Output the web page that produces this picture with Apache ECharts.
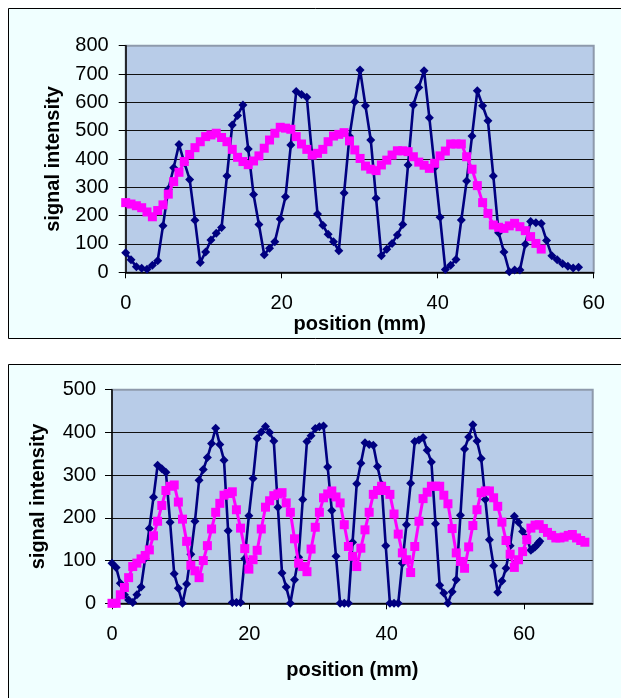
<!DOCTYPE html>
<html>
<head>
<meta charset="utf-8">
<script src="https://cdn.jsdelivr.net/npm/echarts@6/dist/echarts.min.js"></script>
<style>
html,body{margin:0;padding:0;background:#fff;}
#chart{width:621px;height:698px;}
</style>
</head>
<body>
<div id="chart"></div>
<script>
// ---------- data ----------
const xTicks = [0, 20, 40, 60];

// top chart: sample positions (mm)
const topPos = [0, 0.68, 1.37, 2.05, 2.73, 3.42, 4.10, 4.78, 5.46, 6.15,
  6.83, 7.51, 8.20, 8.88, 9.56, 10.25, 10.93, 11.61, 12.29, 12.98,
  13.66, 14.34, 15.03, 15.71, 16.39, 17.08, 17.76, 18.44, 19.12, 19.81,
  20.49, 21.17, 21.86, 22.54, 23.22, 23.91, 24.59, 25.27, 25.95, 26.64,
  27.32, 28.00, 28.69, 29.37, 30.05, 30.74, 31.42, 32.10, 32.78, 33.47,
  34.15, 34.83, 35.52, 36.20, 36.88, 37.57, 38.25, 38.93, 39.61, 40.30,
  40.98, 41.66, 42.35, 43.03, 43.71, 44.40, 45.08, 45.76, 46.44, 47.13,
  47.81, 48.49, 49.18, 49.86, 50.54, 51.23, 51.91, 52.59, 53.27, 53.96,
  54.64, 55.32, 56.01, 56.69, 57.37, 58.06];

const topNavy = [69, 44, 20, 14, 11, 25, 41, 164, 293, 369,
  451, 388, 328, 184, 35, 72, 114, 138, 158, 340,
  520, 554, 591, 435, 275, 169, 62, 85, 108, 188,
  267, 449, 638, 628, 618, 410, 206, 166, 134, 108,
  76, 280, 480, 602, 714, 588, 467, 261, 58, 81,
  102, 132, 169, 379, 591, 652, 712, 546, 370, 194,
  10, 25, 45, 185, 322, 481, 641, 588, 535, 340,
  140, 72, 2, 8, 8, 99, 179, 175, 172, 112,
  58, 44, 30, 21, 15, 18];

const topMagenta = [246, 241, 235, 228, 213, 196, 218, 238, 276, 320,
  353, 391, 416, 440, 461, 479, 485, 491, 476, 461,
  434, 406, 391, 380, 393, 411, 438, 467, 491, 512,
  509, 505, 479, 453, 434, 414, 420, 434, 461, 481,
  487, 493, 464, 432, 402, 375, 364, 359, 379, 396,
  414, 429, 429, 426, 408, 389, 378, 367, 385, 411,
  428, 453, 453, 453, 408, 364, 306, 246, 208, 167,
  159, 155, 164, 173, 161, 147, 126, 102, 82];

// bottom chart: sample positions (mm)
const botPos = [0, 0.60, 1.21, 1.81, 2.42, 3.02, 3.62, 4.23, 4.83, 5.44,
  6.04, 6.64, 7.25, 7.85, 8.46, 9.06, 9.66, 10.27, 10.87, 11.48,
  12.08, 12.68, 13.29, 13.89, 14.50, 15.10, 15.70, 16.31, 16.91, 17.52,
  18.12, 18.72, 19.33, 19.93, 20.54, 21.14, 21.74, 22.35, 22.95, 23.56,
  24.16, 24.76, 25.37, 25.97, 26.58, 27.18, 27.78, 28.39, 28.99, 29.60,
  30.20, 30.80, 31.41, 32.01, 32.62, 33.22, 33.82, 34.43, 35.03, 35.64,
  36.24, 36.84, 37.45, 38.05, 38.66, 39.26, 39.86, 40.47, 41.07, 41.68,
  42.28, 42.88, 43.49, 44.09, 44.70, 45.30, 45.90, 46.51, 47.11, 47.72,
  48.32, 48.92, 49.53, 50.13, 50.74, 51.34, 51.94, 52.55, 53.15, 53.76,
  54.36, 54.96, 55.57, 56.17, 56.78, 57.38, 57.98, 58.59, 59.19, 59.80,
  60.40, 61.00, 61.61, 62.21, 62.82, 63.42, 64.02, 64.63, 65.23, 65.84,
  66.44, 67.04, 67.65, 68.25, 68.86];

const botNavy = [94, 84, 47, 20, 8, 2, 20, 38, 105, 175,
  248, 323, 315, 307, 190, 69, 35, 0, 45, 115,
  192, 288, 313, 341, 374, 410, 372, 335, 170, 2,
  2, 2, 104, 205, 292, 386, 401, 414, 400, 380,
  225, 71, 38, 0, 55, 108, 243, 379, 392, 409,
  413, 415, 319, 217, 110, 0, 0, 0, 143, 280,
  328, 376, 372, 370, 320, 278, 135, 0, 0, 0,
  94, 184, 281, 379, 382, 388, 358, 331, 186, 42,
  24, 0, 27, 55, 206, 361, 389, 418, 380, 339,
  243, 149, 88, 26, 52, 82, 135, 204, 190, 168,
  153];
// short dense tail at the end of the navy trace
const botNavyTailPos = [61.0, 61.3, 61.6, 61.9, 62.1, 62.3];
const botNavyTail = [124, 128, 132, 137, 141, 145];

const botMagenta = [0, 0, 20, 37, 60, 86, 94, 104, 112, 125,
  158, 192, 229, 264, 274, 277, 237, 197, 145, 89,
  76, 60, 100, 135, 174, 213, 234, 253, 257, 261,
  219, 176, 128, 80, 102, 124, 174, 225, 240, 252,
  256, 259, 235, 213, 151, 94, 86, 74, 127, 178,
  213, 247, 256, 263, 249, 235, 184, 133, 110, 86,
  129, 172, 213, 255, 264, 274, 264, 255, 209, 162,
  118, 102, 72, 133, 192, 245, 260, 274, 274, 274,
  253, 233, 175, 118, 98, 82, 132, 182, 219, 259,
  263, 263, 247, 227, 190, 147, 115, 84, 102, 121,
  149, 176, 183, 184, 175, 166, 159, 153, 153, 155,
  159, 161, 153, 147, 143];

// ---------- build ----------
const pair = (xs, ys) => ys.map((v, i) => [xs[i], v]);
const topNavyData = pair(topPos, topNavy);
const topMagData = pair(topPos, topMagenta);
const botNavyData = pair(botPos, botNavy).concat(pair(botNavyTailPos, botNavyTail));
const botMagData = pair(botPos, botMagenta);

const FONT = '"Liberation Sans", Arial, sans-serif';
const NAVY = '#000080';
const MAG = '#FF00FF';

function xAxisCfg(gridIndex, max, nameGap) {
  return {
    type: 'value', gridIndex, min: 0, max, interval: 20,
    name: 'position (mm)', nameLocation: 'middle', nameGap,
    nameTextStyle: { fontFamily: FONT, fontSize: 20, fontWeight: 'bold', color: '#000' },
    axisLine: { show: true, onZero: false, lineStyle: { color: '#000', width: 1.5 } },
    axisTick: { show: true, length: 6, customValues: xTicks, lineStyle: { color: '#000', width: 1 } },
    axisLabel: { margin: 21, fontFamily: FONT, fontSize: 20, color: '#000', customValues: xTicks,
      formatter: v => (xTicks.indexOf(v) >= 0 ? String(v) : '') },
    splitLine: { show: false }
  };
}
function yAxisCfg(gridIndex, max, nameGap, margin) {
  return {
    type: 'value', gridIndex, min: 0, max, interval: 100,
    name: 'signal intensity', nameLocation: 'middle', nameGap,
    nameTextStyle: { fontFamily: FONT, fontSize: 20, fontWeight: 'bold', color: '#000' },
    axisLine: { show: true, lineStyle: { color: '#000', width: 1.5 } },
    axisTick: { show: true, length: 7, lineStyle: { color: '#000', width: 1 } },
    axisLabel: { margin, fontFamily: FONT, fontSize: 20, color: '#000' },
    splitLine: { show: true, showMaxLine: false, lineStyle: { color: '#111', width: 1 } }
  };
}
function navySeries(xi, data) {
  return { type: 'line', xAxisIndex: xi, yAxisIndex: xi, data,
    symbol: 'diamond', symbolSize: 9, showAllSymbol: true,
    lineStyle: { color: NAVY, width: 2.6 }, itemStyle: { color: NAVY }, z: 3 };
}
function magSeries(xi, data) {
  return { type: 'line', xAxisIndex: xi, yAxisIndex: xi, data,
    symbol: 'rect', symbolSize: 9, showAllSymbol: true,
    lineStyle: { color: MAG, width: 3 }, itemStyle: { color: MAG }, z: 4 };
}

const chart = echarts.init(document.getElementById('chart'), null, { renderer: 'canvas' });
chart.setOption({
  animation: false,
  backgroundColor: '#ffffff',
  graphic: [
    { type: 'rect', z: -10, silent: true, shape: { x: 8.5, y: 8.5, width: 700, height: 330 },
      style: { fill: '#F0FFFF', stroke: '#000', lineWidth: 1 } },
    { type: 'rect', z: -10, silent: true, shape: { x: 8.5, y: 364.5, width: 700, height: 400 },
      style: { fill: '#F0FFFF', stroke: '#000', lineWidth: 1 } }
  ],
  grid: [
    { left: 125.7, top: 45.7, width: 468, height: 226.6, show: true,
      backgroundColor: '#B8CCE8', borderColor: '#8E9AAC', borderWidth: 2 },
    { left: 112, top: 389.7, width: 480.7, height: 213.6, show: true,
      backgroundColor: '#B8CCE8', borderColor: '#8E9AAC', borderWidth: 2 }
  ],
  xAxis: [xAxisCfg(0, 60, 29), xAxisCfg(1, 70, 57)],
  yAxis: [yAxisCfg(0, 800, 62, 17), yAxisCfg(1, 500, 64, 16)],
  series: [
    navySeries(0, topNavyData), magSeries(0, topMagData),
    navySeries(1, botNavyData), magSeries(1, botMagData)
  ]
});
</script>
</body>
</html>
